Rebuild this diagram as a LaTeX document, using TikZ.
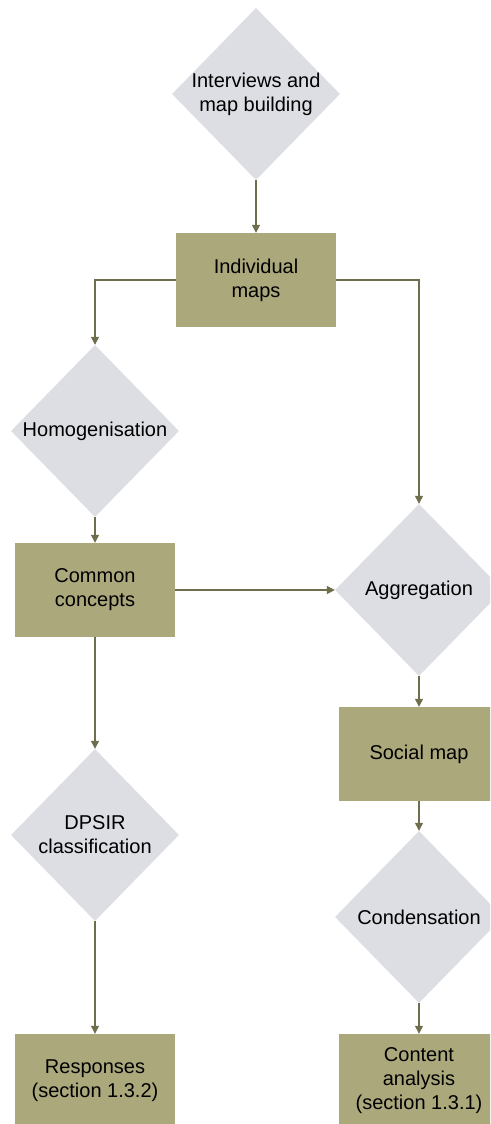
\documentclass[tikz,border=0pt]{standalone}
\usepackage{fontspec}
\setmainfont{Liberation Sans}
\usetikzlibrary{shapes.geometric,arrows.meta}
\definecolor{boxfill}{HTML}{ABA87C}
\definecolor{diafill}{HTML}{DCDEE3}
\definecolor{linecol}{HTML}{6E6E4C}
\begin{document}
\begin{tikzpicture}[x=1pt,y=-1pt,
  txt/.style={font=\fontsize{20}{24}\selectfont, align=center, text=black},
  dia/.style={diamond, fill=diafill, draw=none, inner sep=0pt, minimum width=168pt, minimum height=172pt},
  stepbox/.style={rectangle, fill=boxfill, draw=none, inner sep=0pt, minimum width=160pt, minimum height=94pt, txt},
  conn/.style={draw=linecol, line width=1.3pt, -{Triangle[length=8pt,width=8pt]}}]
\useasboundingbox (0,0) rectangle (490,1124);
\clip (0,0) rectangle (490,1124);
\node[dia, label={[txt]center:Interviews and\\map building}] (d1) at (256,94) {};
\node[stepbox] (b1) at (256,280) {Individual\\maps};
\node[dia, label={[txt]center:Homogenisation}] (d2) at (95,431) {};
\node[stepbox] (b2) at (95,590) {Common\\concepts};
\node[dia, label={[txt]center:Aggregation}] (d4) at (419,590) {};
\node[stepbox] (b4) at (419,754) {Social map};
\node[dia, label={[txt]center:Condensation}] (d5) at (419,917) {};
\node[stepbox] (b5) at (419,1081) {Content\\analysis\\(section 1.3.1)};
\node[dia, label={[txt]center:DPSIR\\classification}] (d3) at (95,835) {};
\node[stepbox] (b3) at (95,1081) {Responses\\(section 1.3.2)};
\draw[conn] (d1.south) -- (b1.north);
\draw[conn] (b1.west) -| (d2.north);
\draw[conn] (b1.east) -| (d4.north);
\draw[conn] (d2.south) -- (b2.north);
\draw[conn] (b2.east) -- (d4.west);
\draw[conn] (b2.south) -- (d3.north);
\draw[conn] (d3.south) -- (b3.north);
\draw[conn] (d4.south) -- (b4.north);
\draw[conn] (b4.south) -- (d5.north);
\draw[conn] (d5.south) -- (b5.north);
\end{tikzpicture}
\end{document}
